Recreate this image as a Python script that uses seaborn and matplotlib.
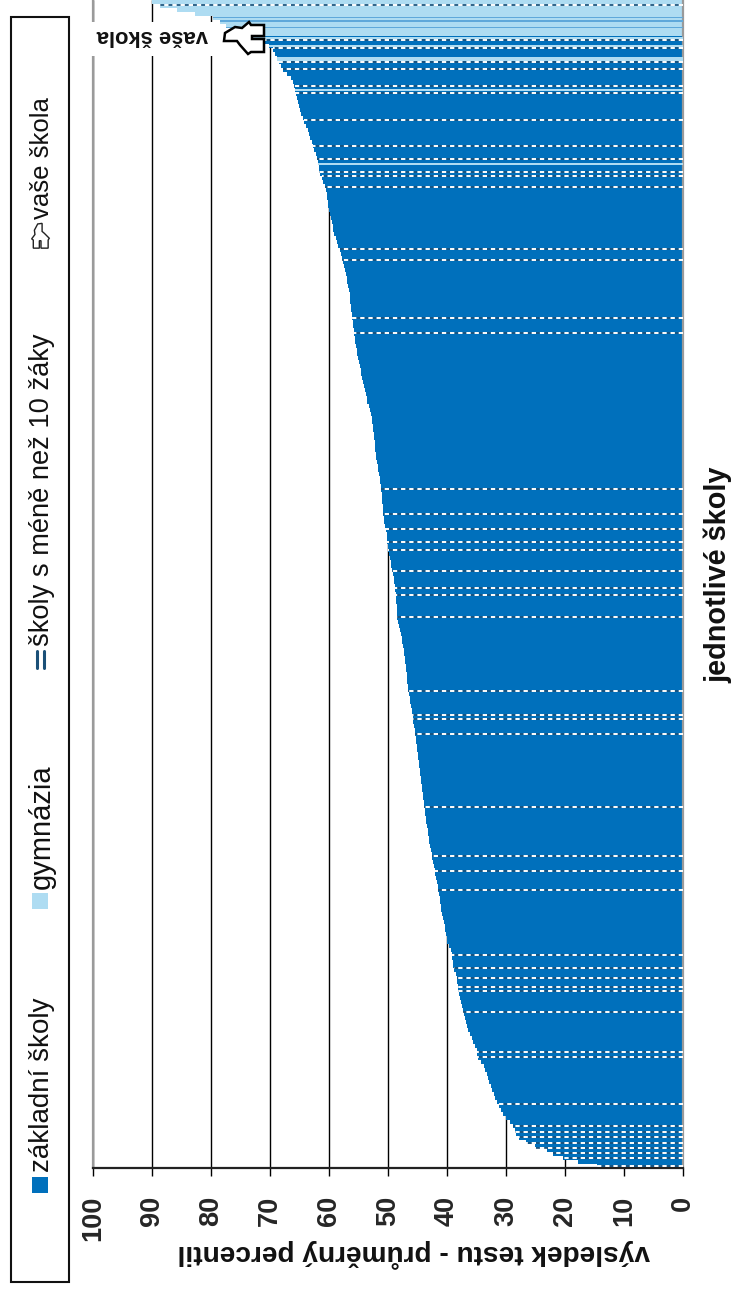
import matplotlib
matplotlib.use("Agg")
import matplotlib.pyplot as plt
from matplotlib.patches import Polygon, Rectangle
from matplotlib.lines import Line2D
from matplotlib.transforms import Affine2D
import numpy as np
import pandas as pd
import seaborn as sns

W, H = 731, 1293

hodnoty = [
90.0,88.6,85.8,82.7,79.7,78.5,77.5,76.1,74.7,73.4,71.4,70.2,69.5,69.2,68.8,68.5,68.1,67.8,67.1,66.4,
66.1,65.9,65.8,65.6,65.4,65.3,65.1,64.9,64.7,64.4,64.2,63.9,63.6,63.4,63.2,62.9,62.7,62.5,62.2,62.0,
61.9,61.7,61.7,61.5,61.2,61.0,60.7,60.5,60.3,60.3,60.2,60.2,60.0,59.8,59.7,59.5,59.3,59.3,59.2,58.8,
58.6,58.5,58.1,58.0,57.8,57.6,57.5,57.3,57.1,56.9,56.9,56.8,56.6,56.4,56.4,56.4,56.3,56.3,56.1,56.1,
55.9,55.9,55.8,55.8,55.6,55.6,55.4,55.3,55.3,55.1,54.9,54.7,54.6,54.6,54.4,54.2,54.1,53.9,53.7,53.6,
53.6,53.2,53.1,52.9,52.7,52.7,52.5,52.5,52.4,52.4,52.2,52.2,52.2,52.0,52.0,51.9,51.7,51.7,51.5,51.4,
51.4,51.2,51.2,51.0,51.0,51.0,50.8,50.8,50.8,50.7,50.7,50.5,50.3,50.2,50.2,50.2,50.0,50.0,49.8,49.7,
49.5,49.5,49.3,49.2,49.0,49.0,48.8,48.8,48.6,48.6,48.6,48.5,48.5,48.5,48.5,48.3,48.1,48.0,47.8,47.6,
47.6,47.5,47.3,47.3,47.1,47.1,46.9,46.9,46.8,46.8,46.8,46.6,46.6,46.4,46.3,46.3,46.1,45.9,45.9,45.8,
45.8,45.6,45.4,45.4,45.3,45.3,45.1,45.1,44.9,44.9,44.7,44.7,44.6,44.6,44.4,44.4,44.2,44.2,44.1,44.1,
43.9,43.9,43.7,43.7,43.6,43.6,43.4,43.2,43.2,43.1,43.1,42.9,42.7,42.5,42.5,42.4,42.2,42.0,42.0,41.9,
41.7,41.5,41.5,41.4,41.2,41.2,41.0,41.0,40.8,40.7,40.5,40.3,40.3,40.2,40.0,40.0,39.7,39.3,39.2,39.2,
39.0,39.0,38.8,38.5,38.3,38.3,38.1,38.1,38.0,37.8,37.6,37.5,37.3,37.1,36.9,36.8,36.6,36.4,36.1,35.8,
35.6,35.3,34.9,34.9,34.7,34.2,33.7,33.6,33.2,33.1,32.9,32.5,32.4,32.0,31.9,31.5,31.2,30.8,30.5,30.0,
29.3,28.8,28.5,28.3,27.8,26.6,25.1,23.1,22.0,20.3,17.8,14.6,
]
gymnazia_radky = [0, 1, 2, 3, 4, 5, 6, 7, 8]
gymnazia_uzke = [9, 11, 14.25, 22, 40.5]
gymnazia_uzke_siroke = [0.4, 0.5, 0.9, 0.45, 0.45]
zakladni_uzke = [3.9, 4.75, 6.4]
male_skoly = [0.75, 9.5, 11.5, 15, 16.75, 21, 22.75, 29.5, 36, 39.25, 42.5, 43.5, 46.25, 61.75, 64.5,
              79, 82.75, 121.75, 128, 131.75, 135, 137, 142.25, 146.5, 148.25, 153.75, 172.25, 178.25,
              179.25, 183, 201.25, 213.5, 217.25, 222, 238.25, 241.5, 244, 246.25, 247.25, 252.5,
              262.5, 263.75, 275.5, 281, 282.5, 283.75, 285.25, 286.5, 287.75, 289, 291]
x_ticks = [100, 90, 80, 70, 60, 50, 40, 30, 20, 10, 0]
legend_labels = ["základní školy", "gymnázia", "školy s méně než 10 žáky", "vaše škola"]
x_title = "výsledek testu - průměrný percentil"
y_title = "jednotlivé školy"

MODRA = "#0070BC"
SVETLA = "#AEDCF2"
STREDNI = "#5FA8DA"
NAVY = "#1B5078"

sns.set_theme(style="white")
plt.rcParams["font.family"] = ["Liberation Sans", "DejaVu Sans"]

poradi = list(range(len(hodnoty)))
df = pd.DataFrame({
    "poradi": poradi,
    "hodnota": hodnoty,
    "typ": [legend_labels[1] if i in gymnazia_radky else legend_labels[0] for i in poradi],
})

fig = plt.figure(figsize=(W / 100, H / 100), dpi=100, facecolor="white")
ax = fig.add_axes([93 / W, (H - 1168) / H, 590 / W, 1168 / H])
sns.barplot(data=df, y="poradi", x="hodnota", hue="typ", orient="h", dodge=False, width=1,
            palette={legend_labels[0]: MODRA, legend_labels[1]: SVETLA},
            saturation=1, linewidth=0, legend=False, ax=ax, order=poradi, zorder=2)


def hodnota_radku(r):
    return hodnoty[min(int(round(r)), len(hodnoty) - 1)]


ax.barh(gymnazia_uzke, [hodnota_radku(r) for r in gymnazia_uzke], height=gymnazia_uzke_siroke,
        color=SVETLA, linewidth=0, zorder=3)
ax.barh(zakladni_uzke, [hodnota_radku(r) for r in zakladni_uzke], height=0.3,
        color=STREDNI, linewidth=0, zorder=3)
ms_vals = [hodnota_radku(r) for r in male_skoly]
ax.hlines(male_skoly, 0, ms_vals, color=NAVY, lw=1.2, zorder=4)
ax.hlines(male_skoly, 0, ms_vals, color="white", lw=1.4, linestyles=[(0, (2.2, 2.0))], zorder=5)

ax.set_xlim(100, 0)
ax.set_ylim(len(hodnoty) - 0.5, -0.5)
ax.set_xticks(x_ticks)
ax.set_xticklabels([str(t) for t in x_ticks], rotation=90, fontsize=19.5, fontweight="bold")
ax.set_yticks([])
ax.set_xlabel("")
ax.set_ylabel("")
ax.xaxis.grid(True, color="black", lw=1.0, zorder=1)
ax.set_axisbelow(True)
ax.tick_params(axis="x", direction="out", length=6, width=1.0, color="black", pad=14, bottom=True)
for side, spine in ax.spines.items():
    spine.set_visible(side != "top")
    spine.set_color("#9a9a9a" if side in ("left", "right") else "#222222")
    spine.set_linewidth(1.6)

px = Affine2D().scale(1 / W, -1 / H).translate(0, 1) + fig.transFigure

fig.text(414, 1253, x_title, transform=px, rotation=180, ha="center", va="center",
         fontsize=20.2, fontweight="bold", color="#111111")
fig.text(718, 575, y_title, transform=px, rotation=90, ha="center", va="center",
         fontsize=20.8, fontweight="bold", color="#111111")

# popisek a ruka "vaše škola"
fig.patches.append(Rectangle((90, 22), 127, 34, transform=px, facecolor="white", edgecolor="none",
                             figure=fig, zorder=6))
fig.text(152, 36, legend_labels[3], transform=px, rotation=180, ha="center", va="center",
         fontsize=15.8, fontweight="bold", color="#111111", zorder=7)
ruka = np.array([(264, 25), (251, 25), (249, 22), (242, 28), (235, 27), (225, 33), (224, 41), (237, 41),
                 (240, 45), (248, 54), (251, 52), (264, 52), (264, 39), (252, 39), (252, 36), (264, 36)])
fig.patches.append(Polygon(ruka, closed=True, transform=px, facecolor="white", edgecolor="black",
                           lw=1.8, figure=fig, zorder=8))

# legenda
fig.patches.append(Rectangle((11, 17), 58, 1265, transform=px, facecolor="none", edgecolor="#111111",
                             lw=1.5, figure=fig, zorder=6))
for label, y_bottom, size in zip(legend_labels, [1172, 889, 646, 219], [20, 21, 19.6, 18.5]):
    fig.text(42, y_bottom, label, transform=px, rotation=90, ha="center", va="bottom",
             fontsize=size, color="#111111", zorder=7)
fig.patches.append(Rectangle((32, 1177), 16, 16, transform=px, facecolor=MODRA, edgecolor="none",
                             figure=fig, zorder=7))
fig.patches.append(Rectangle((32, 893), 16, 16, transform=px, facecolor=SVETLA, edgecolor="none",
                             figure=fig, zorder=7))
for xp in (37, 44):
    fig.add_artist(Line2D([xp, xp], [651, 668], transform=px, color=NAVY, lw=2.2, zorder=7))
stred = ruka.mean(axis=0)
mala = (ruka - stred)[:, ::-1] * np.array([0.55, 0.62]) + np.array([40, 238])
fig.patches.append(Polygon(mala, closed=True, transform=px, facecolor="white", edgecolor="#222222",
                           lw=1.0, figure=fig, zorder=8))

fig.savefig("out.png", dpi=100, facecolor="white")
